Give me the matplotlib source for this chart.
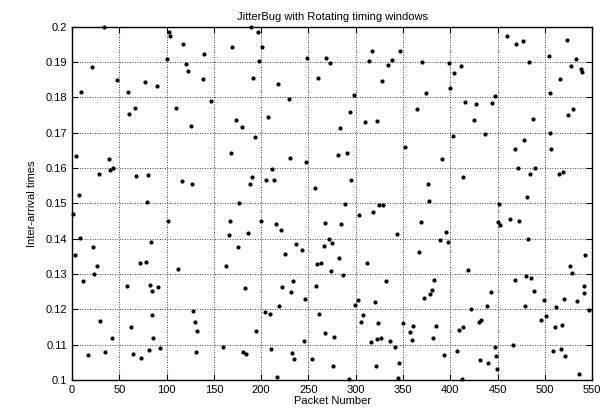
import matplotlib
matplotlib.use("Agg")
import matplotlib.pyplot as plt
from matplotlib.ticker import MultipleLocator, FormatStrFormatter

plt.rcParams['font.family'] = ['Liberation Sans', 'DejaVu Sans']
plt.rcParams['font.size'] = 8

# packet number / inter-arrival time
packets = [1, 3, 4, 7, 8, 9, 11, 17, 21, 22, 23, 26, 28, 30, 34, 35, 39, 40, 42, 43,
           47, 58, 59, 60, 62, 64, 66, 68, 72, 73, 77, 78, 79, 80, 81, 82, 83, 84, 85, 86,
           90, 91, 93,
           100, 101, 103, 104, 110, 112, 116, 117, 120, 123, 126, 127, 128, 130, 131, 132,
           138, 140, 147, 160, 163, 166, 167, 168, 169, 173, 175, 177, 180, 181, 183, 184,
           186, 188, 189, 190, 191, 193, 195, 197, 198, 200, 201, 204, 205, 207, 209, 210,
           211, 214, 216, 217, 218, 219, 221, 222, 225, 229, 230, 232, 233, 234, 235, 237,
           243, 245, 246, 247, 248, 254, 257, 258, 259, 260, 261, 263, 266, 267, 268, 269,
           272, 273, 274, 275, 276, 277,
           281, 282, 283, 284, 287, 289, 291, 293, 294, 295, 298, 299, 302, 303, 306, 308,
           310, 312, 314, 316, 317, 318, 320, 321, 322, 323, 324, 325, 327, 328, 329, 332,
           334, 336, 338, 342, 344, 345, 346, 347, 350, 352, 357, 360, 361, 365, 367, 369, 370,
           372, 374, 376, 377, 379, 381, 382, 383, 385, 389, 391, 393, 396, 398, 399, 400,
           403, 404, 407, 409, 411, 412, 413, 414, 416, 419, 422, 425, 427, 430, 431, 433,
           437, 439, 440, 443, 444, 447, 447, 448, 449, 450, 452, 453, 460, 463,
           466, 468, 469, 470, 472, 473, 477, 478, 479, 480, 481, 482, 483, 484, 485, 488,
           489, 490, 496, 499, 501, 504, 505, 506, 507, 509, 511, 512, 515, 516, 517, 518,
           519, 520, 521, 524, 525, 527, 528, 529, 530, 533, 534, 536, 538, 539, 541, 542,
           543, 547]
times = [0.1470, 0.1354, 0.1634, 0.1525, 0.1401, 0.1816, 0.1280, 0.1070, 0.1886, 0.1377,
         0.1301, 0.1324, 0.1582, 0.1168, 0.1999, 0.1080, 0.1626, 0.1595, 0.1118, 0.1600,
         0.1850, 0.1267, 0.1816, 0.1754, 0.1151, 0.1073, 0.1771, 0.1577, 0.1331, 0.1063,
         0.1843, 0.1335, 0.1505, 0.1579, 0.1085, 0.1270, 0.1392, 0.1183, 0.1252, 0.1120,
         0.1832, 0.1263, 0.1091,
         0.1908, 0.1450, 0.1984, 0.1975, 0.1771, 0.1315, 0.1562, 0.1951, 0.1894, 0.1876,
         0.1719, 0.1555, 0.1196, 0.1165, 0.1080, 0.1139, 0.1851, 0.1923, 0.1790, 0.1093,
         0.1323, 0.1410, 0.1451, 0.1643, 0.1944, 0.1735, 0.1377, 0.1502, 0.1715, 0.1080,
         0.1259, 0.1074,
         0.1416, 0.1556, 0.1999, 0.1574, 0.1854, 0.1689, 0.1140, 0.1984, 0.1902, 0.1450,
         0.1942, 0.1192, 0.1566, 0.1744, 0.1186, 0.1088, 0.1598, 0.1567, 0.1442, 0.1009,
         0.1838, 0.1210, 0.1424, 0.1262, 0.1356, 0.1796, 0.1629, 0.1250, 0.1076, 0.1281,
         0.1058, 0.1385, 0.1368, 0.1110, 0.1229, 0.1618, 0.1911, 0.1058, 0.1544, 0.1267,
         0.1328, 0.1856, 0.1188, 0.1331, 0.1380, 0.1132, 0.1444, 0.1911, 0.1400, 0.1896,
         0.1308, 0.1387, 0.1040, 0.1121,
         0.1637, 0.1345, 0.1712, 0.1441, 0.1298, 0.1499, 0.1642, 0.1003, 0.1760, 0.1565,
         0.1807, 0.1212, 0.1225, 0.1467, 0.1165, 0.1184, 0.1729, 0.1331, 0.1902, 0.1107,
         0.1930, 0.1476, 0.1221, 0.1040, 0.1732, 0.1117, 0.1161, 0.1495, 0.1119, 0.1845,
         0.1495, 0.1281, 0.1892, 0.1110, 0.1905, 0.1094, 0.1414, 0.1005, 0.1049, 0.1931,
         0.1161, 0.1659, 0.1136, 0.1112, 0.1153, 0.1767, 0.1361, 0.1448, 0.1901,
         0.1232, 0.1812, 0.1554, 0.1507, 0.1244, 0.1254, 0.1120, 0.1283, 0.1153, 0.1397,
         0.1625, 0.1070, 0.1420, 0.1392, 0.1897, 0.1827, 0.1692, 0.1869, 0.1083, 0.1142,
         0.1888, 0.1004, 0.1149, 0.1574, 0.1787, 0.1312, 0.1201, 0.1737, 0.1780, 0.1163,
         0.1056, 0.1170, 0.1696, 0.1208, 0.1047, 0.1249, 0.1783, 0.1804, 0.1093, 0.1067,
         0.1031, 0.1448, 0.1498, 0.1440, 0.1975, 0.1455,
         0.1099, 0.1654, 0.1282, 0.1950, 0.1599, 0.1451, 0.1960, 0.1678, 0.1210, 0.1293,
         0.1518, 0.1399, 0.1899, 0.1582, 0.1290, 0.1739, 0.1253, 0.1599, 0.1169, 0.1227,
         0.1182, 0.1916, 0.1698, 0.1813, 0.1655, 0.1082, 0.1149, 0.1207, 0.1582, 0.1851,
         0.1087, 0.1155, 0.1590, 0.1229, 0.1068, 0.1963, 0.1749, 0.1323, 0.1890, 0.1303,
         0.1768, 0.1908, 0.1224, 0.1018, 0.1880, 0.1873, 0.1265, 0.1246, 0.1354, 0.1197]

fig = plt.figure(figsize=(6.06, 4.18), dpi=100)
ax = fig.add_axes([0.119, 0.091, 0.858, 0.845])

ax.plot(packets, times, 'o', color='black', markersize=3.0, markeredgewidth=0,
        clip_on=False, zorder=3)

ax.set_xlim(0, 550)
ax.set_ylim(0.1, 0.2)
ax.xaxis.set_major_locator(MultipleLocator(50))
ax.yaxis.set_major_locator(MultipleLocator(0.01))
ax.yaxis.set_major_formatter(FormatStrFormatter('%g'))
ax.tick_params(direction='in', top=True, right=True, length=4, width=0.8, labelsize=8)
ax.grid(True, color='black', linestyle=(0, (1, 2)), linewidth=0.6)
for s in ax.spines.values():
    s.set_linewidth(1.0)

ax.set_title('JitterBug with Rotating timing windows', fontsize=8, pad=5)
ax.set_xlabel('Packet Number', fontsize=8, labelpad=1)
ax.set_ylabel('Inter-arrival times', fontsize=8, labelpad=6)

fig.savefig('out.png', dpi=100)
